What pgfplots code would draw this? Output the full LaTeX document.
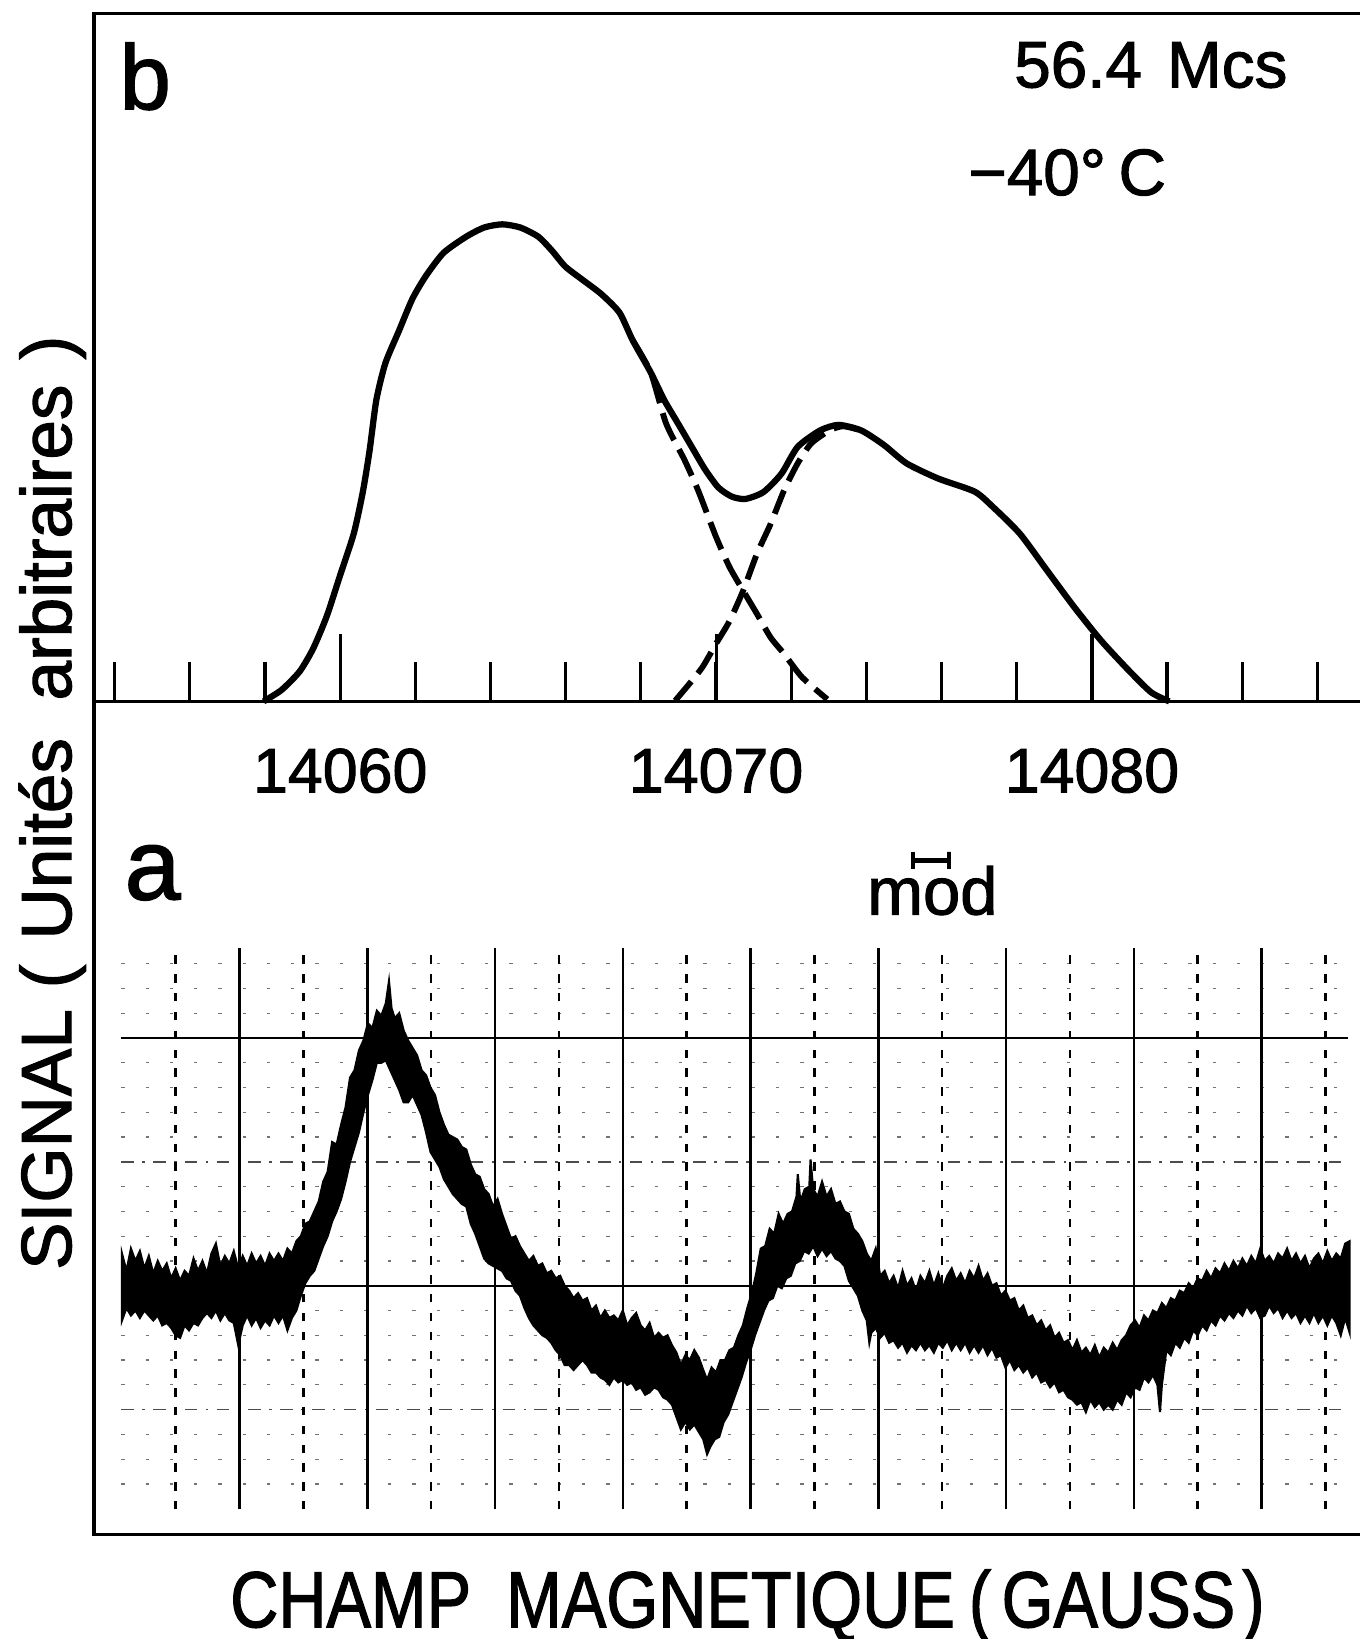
\documentclass[border=0pt]{standalone}
\usepackage{fontspec}
\setmainfont{Liberation Sans}
\newfontfamily\lettering{Liberation Sans}[FakeBold=1.6]
\usepackage{graphicx}
\usepackage{pgfplots}
\pgfplotsset{compat=1.18}

\begin{document}
\begin{tikzpicture}[x=0.25pt,y=0.25pt]

% ---------- panel b : decomposition ----------
\begin{axis}[
  scale only axis, width=302.75pt, height=164.5pt,
  at={(22.5pt,224.25pt)}, anchor=south west,
  xmin=14053.45, xmax=14087.13, ymin=0, ymax=100,
  axis line style={draw=none},
  ytick=\empty,
  xtick={14054,14056,...,14086},
  xticklabels={},
  scaled x ticks=false,
  xtick pos=left,
  tick align=inside,
  major tick length=9.5pt,
  tick style={line width=0.75pt, black},
  extra x ticks={14060,14070,14080},
  extra x tick labels={14060,14070,14080},
  extra x tick style={major tick length=16pt},
  tick label style={font=\lettering\fontsize{15}{15}\selectfont, yshift=-7.75pt},
  clip=false,
]
\draw[line width=0.9pt] (rel axis cs:1,1) -- (rel axis cs:0,1) -- (rel axis cs:0,0) -- (rel axis cs:1,0);

% measured envelope
\addplot[line width=1.5pt, smooth, tension=0.4] coordinates {
(14057.96,0)(14058.44,1.67)(14058.92,4.35)(14059.28,7.69)(14059.64,12.37)
(14060.0,18.39)(14060.36,24.41)(14060.60,30.43)(14060.78,36.45)(14060.96,43.81)
(14061.20,49.16)(14061.56,53.85)(14061.92,58.53)(14062.28,61.87)(14062.75,65.22)
(14063.35,67.56)(14063.83,68.90)(14064.31,69.36)(14064.79,68.90)(14065.27,67.56)
(14065.63,65.55)(14065.99,63.21)(14066.47,61.20)(14066.95,59.20)(14067.43,56.52)
(14067.78,52.51)(14068.26,47.83)(14068.62,43.81)(14068.98,40.47)(14069.34,37.12)
(14069.70,33.78)(14070.06,31.10)(14070.42,29.77)(14070.78,29.43)(14071.26,30.43)
(14071.74,33.11)(14072.17,37.0)(14072.77,39.4)(14073.26,40.2)(14073.86,39.4)
(14074.46,37.3)(14075.07,34.6)(14075.91,32.4)(14076.88,30.5)(14077.36,28.3)
(14078.08,24.4)(14078.81,19.0)(14079.53,13.7)(14080.25,8.8)(14080.98,4.5)
(14081.58,1.3)(14082.06,0)
};

% low-field component
\addplot[line width=1.4pt, smooth, tension=0.4, dash pattern=on 7pt off 2.5pt] coordinates {
(14067.78,52.51)(14068.26,47.83)(14068.67,40.4)(14069.16,35.1)(14069.52,30.7)
(14070.0,23.9)(14070.36,19.5)(14070.72,16.1)(14071.09,12.7)(14071.45,9.3)
(14071.81,6.9)(14072.29,3.5)(14072.96,0.3)
};

% high-field component
\addplot[line width=1.4pt, smooth, tension=0.4, dash pattern=on 6pt off 2.5pt] coordinates {
(14068.91,0.1)(14069.28,2.5)(14069.64,5.0)(14070.0,8.4)(14070.36,11.7)
(14070.72,16.1)(14071.09,21.5)(14071.45,25.8)(14071.81,30.7)(14072.17,34.6)
(14072.53,37.5)(14073.02,39.4)(14073.38,40.0)(14073.86,39.4)
};
\end{axis}

% ---------- panel a : recorder trace ----------
\begin{axis}[
  scale only axis, width=302.75pt, height=199.25pt,
  at={(22.5pt,25pt)}, anchor=south west,
  xmin=-1.277, xmax=18.54, ymin=-10.04, ymax=23.59,
  axis line style={draw=none},
  xtick=\empty, ytick=\empty,
  clip=false,
]
\draw[line width=0.9pt] (rel axis cs:0,1) -- (rel axis cs:0,0) -- (rel axis cs:1,0);

% chart paper
\pgfplotsinvokeforeach{-8,-7,-6,-4,-3,-2,-1,1,2,3,4,6,7,8,9,11,12,13}{
  \addplot[line width=0.3pt, black!55, dash pattern=on 0.8pt off 5pt] coordinates {(-0.85,#1)(18.36,#1)};
}
\pgfplotsinvokeforeach{-5,5}{
  \addplot[line width=0.35pt, black!70, dash pattern=on 3pt off 2pt on 0.6pt off 2pt] coordinates {(-0.85,#1)(18.36,#1)};
}
\pgfplotsinvokeforeach{0,10}{
  \addplot[line width=0.45pt] coordinates {(-0.85,#1)(18.36,#1)};
}
\pgfplotsinvokeforeach{1,3,...,17}{
  \addplot[line width=0.6pt] coordinates {(#1,-9.03)(#1,13.63)};
}
\pgfplotsinvokeforeach{0,2,...,18}{
  \addplot[line width=0.6pt, dash pattern=on 2pt off 2.5pt] coordinates {(#1,-9.03)(#1,13.63)};
}

% signal band (upper edge then lower edge)
\addplot[fill=black, draw=black, line width=0.5pt] coordinates {
(-0.84,1.3)(-0.77,0.6)(-0.70,1.5)(-0.63,1.0)(-0.56,1.4)(-0.49,0.7)(-0.42,1.2)(-0.35,0.5)
(-0.28,1.0)(-0.21,0.6)(-0.14,0.9)(-0.07,0.3)(0.00,0.7)(0.07,0.2)(0.14,0.6)(0.21,0.4)
(0.28,1.1)(0.35,0.6)(0.42,1.0)(0.49,0.5)(0.56,1.3)(0.63,1.7)(0.70,0.8)(0.77,1.2)
(0.84,0.9)(0.91,1.4)(0.98,0.7)(1.05,1.2)(1.12,0.8)(1.19,1.3)(1.26,0.9)(1.33,1.2)
(1.40,0.8)(1.47,1.3)(1.54,1.0)(1.61,1.3)(1.68,1.0)(1.75,1.5)(1.82,1.3)(1.89,1.8)
(1.96,2.0)(2.03,2.5)(2.10,2.6)(2.17,3.0)(2.24,3.4)(2.31,4.2)(2.38,4.6)(2.45,5.8)
(2.52,5.7)(2.59,6.5)(2.66,7.2)(2.73,8.4)(2.80,8.7)(2.87,9.5)(2.94,9.9)(3.01,10.6)
(3.08,10.4)(3.15,11.1)(3.22,10.9)(3.29,11.4)(3.34,12.3)(3.38,11.2)(3.43,10.8)(3.50,11.0)
(3.57,10.3)(3.64,9.9)(3.71,9.6)(3.78,9.3)(3.85,8.7)(3.92,8.5)(3.99,8.0)(4.06,7.7)
(4.13,7.0)(4.20,6.5)(4.27,6.1)(4.34,6.0)(4.41,5.9)(4.48,5.6)(4.55,5.5)(4.62,4.9)
(4.69,4.5)(4.76,4.4)(4.83,3.9)(4.90,3.7)(4.97,3.2)(5.04,3.5)(5.11,2.9)(5.18,2.4)
(5.25,1.9)(5.32,2.0)(5.39,1.6)(5.46,1.3)(5.53,1.0)(5.60,1.2)(5.67,0.8)(5.74,0.9)
(5.81,0.5)(5.88,0.6)(5.95,0.3)(6.02,0.4)(6.09,0.0)(6.16,-0.2)(6.23,-0.5)(6.30,-0.3)
(6.37,-0.6)(6.44,-0.5)(6.51,-1.0)(6.58,-0.8)(6.65,-1.3)(6.72,-1.0)(6.79,-1.3)(6.86,-1.2)
(6.93,-1.4)(7.00,-1.0)(7.07,-1.6)(7.14,-1.3)(7.21,-1.1)(7.28,-1.6)(7.35,-1.8)(7.42,-1.5)
(7.49,-2.1)(7.56,-1.9)(7.63,-2.1)(7.70,-2.0)(7.77,-2.4)(7.84,-2.7)(7.91,-3.2)(7.98,-2.8)
(8.05,-3.0)(8.12,-2.6)(8.19,-2.9)(8.26,-3.4)(8.32,-3.8)(8.39,-3.3)(8.46,-3.5)(8.53,-3.0)
(8.60,-3.0)(8.67,-2.6)(8.74,-2.5)(8.81,-2.0)(8.88,-1.6)(8.95,-0.9)(9.02,-0.3)(9.09,0.5)
(9.16,1.5)(9.23,1.6)(9.30,2.3)(9.37,2.1)(9.44,2.9)(9.51,2.5)(9.58,2.9)(9.65,3.0)
(9.72,3.6)(9.74,4.5)(9.78,3.4)(9.85,3.9)(9.92,4.0)(9.94,5.1)(9.98,3.9)(10.05,3.6)
(10.12,4.2)(10.19,3.6)(10.26,3.9)(10.33,3.3)(10.40,3.4)(10.47,3.0)(10.54,2.9)(10.61,2.3)
(10.68,2.1)(10.75,1.8)(10.82,1.3)(10.89,1.0)(10.96,1.5)(11.03,0.4)(11.10,0.6)(11.17,0.1)
(11.24,0.4)(11.31,-0.1)(11.38,0.6)(11.45,0.0)(11.52,0.3)(11.59,-0.2)(11.66,0.4)(11.73,0.1)
(11.80,0.6)(11.87,0.0)(11.94,0.5)(12.01,-0.1)(12.08,0.4)(12.15,0.7)(12.22,0.2)(12.29,0.5)
(12.36,0.1)(12.43,0.6)(12.50,0.3)(12.57,0.8)(12.64,0.2)(12.71,0.5)(12.78,0.0)(12.85,0.1)
(12.92,-0.4)(12.99,-0.2)(13.06,-0.6)(13.13,-0.5)(13.20,-1.0)(13.27,-0.8)(13.34,-1.3)(13.41,-1.2)
(13.48,-1.6)(13.55,-1.4)(13.62,-1.8)(13.69,-1.6)(13.76,-2.1)(13.83,-1.9)(13.90,-2.3)(13.97,-2.2)
(14.04,-2.6)(14.11,-2.2)(14.18,-2.7)(14.25,-2.5)(14.32,-2.8)(14.39,-2.4)(14.46,-2.9)(14.53,-2.5)
(14.60,-2.7)(14.67,-2.3)(14.74,-2.6)(14.81,-2.2)(14.88,-2.0)(14.95,-1.6)(15.02,-1.4)(15.09,-1.7)
(15.16,-1.2)(15.23,-1.4)(15.30,-1.0)(15.37,-1.1)(15.44,-0.7)(15.51,-0.9)(15.58,-0.5)(15.65,-0.6)
(15.72,-0.2)(15.79,-0.3)(15.86,0.1)(15.93,-0.1)(16.00,0.3)(16.07,0.2)(16.14,0.6)(16.21,0.3)
(16.28,0.7)(16.35,0.5)(16.42,0.9)(16.49,0.6)(16.56,1.0)(16.63,0.7)(16.70,1.1)(16.77,0.8)
(16.84,1.2)(16.91,0.9)(16.98,1.5)(17.05,1.0)(17.12,1.2)(17.19,0.9)(17.26,1.3)(17.33,1.1)
(17.40,1.5)(17.47,1.0)(17.54,1.3)(17.61,0.9)(17.68,1.2)(17.75,0.7)(17.82,1.1)(17.89,1.3)
(17.96,0.9)(18.03,1.4)(18.10,1.0)(18.17,1.3)(18.24,1.1)(18.31,1.7)(18.38,1.8)
(18.38,-1.9)(18.31,-1.3)(18.24,-2.0)(18.17,-1.5)(18.10,-1.2)(18.03,-1.6)(17.96,-1.2)(17.89,-1.5)
(17.82,-1.1)(17.75,-1.5)(17.68,-1.2)(17.61,-1.5)(17.54,-1.1)(17.47,-1.3)(17.40,-1.0)(17.33,-1.3)
(17.26,-0.9)(17.19,-1.1)(17.12,-0.8)(17.05,-1.2)(16.98,-1.3)(16.91,-0.9)(16.84,-1.1)(16.77,-0.8)
(16.70,-1.2)(16.63,-1.0)(16.56,-1.3)(16.49,-1.1)(16.42,-1.4)(16.35,-1.2)(16.28,-1.6)(16.21,-1.4)
(16.14,-1.8)(16.07,-1.6)(16.00,-2.0)(15.93,-1.8)(15.86,-2.3)(15.79,-2.1)(15.72,-2.5)(15.65,-2.3)
(15.58,-2.8)(15.51,-2.6)(15.44,-4.0)(15.41,-5.1)(15.37,-4.0)(15.30,-3.6)(15.23,-3.9)(15.16,-3.7)
(15.09,-4.2)(15.02,-4.1)(14.95,-4.5)(14.88,-4.3)(14.81,-4.8)(14.74,-4.6)(14.67,-5.0)(14.60,-4.8)
(14.53,-5.0)(14.46,-4.7)(14.39,-4.9)(14.32,-4.6)(14.25,-5.1)(14.18,-4.7)(14.11,-4.8)(14.04,-4.6)
(13.97,-4.5)(13.90,-4.2)(13.83,-4.3)(13.76,-3.9)(13.69,-4.1)(13.62,-3.8)(13.55,-3.9)(13.48,-3.5)
(13.41,-3.7)(13.34,-3.3)(13.27,-3.5)(13.20,-3.2)(13.13,-3.4)(13.06,-3.0)(12.99,-3.3)(12.92,-2.8)
(12.85,-2.9)(12.78,-2.5)(12.71,-2.8)(12.64,-2.4)(12.57,-2.7)(12.50,-2.4)(12.43,-2.7)(12.36,-2.3)
(12.29,-2.6)(12.22,-2.3)(12.15,-2.6)(12.08,-2.2)(12.01,-2.5)(11.94,-2.3)(11.87,-2.7)(11.80,-2.4)
(11.73,-2.6)(11.66,-2.3)(11.59,-2.6)(11.52,-2.4)(11.45,-2.7)(11.38,-2.3)(11.31,-2.5)(11.24,-2.2)
(11.17,-2.3)(11.10,-1.9)(11.03,-2.1)(10.96,-1.7)(10.89,-1.9)(10.86,-2.3)(10.82,-1.4)(10.75,-1.0)
(10.68,-0.4)(10.61,-0.1)(10.54,0.2)(10.47,0.8)(10.40,1.0)(10.33,1.1)(10.26,1.4)(10.19,1.2)
(10.12,1.5)(10.05,1.2)(9.98,1.6)(9.91,1.3)(9.84,1.4)(9.77,1.0)(9.70,0.9)(9.63,0.4)
(9.56,0.3)(9.49,-0.1)(9.42,0.0)(9.35,-0.5)(9.28,-0.6)(9.21,-1.0)(9.14,-1.5)(9.07,-2.0)
(9.00,-2.6)(8.93,-3.1)(8.86,-3.7)(8.79,-4.2)(8.72,-4.7)(8.65,-5.2)(8.58,-5.5)(8.51,-6.1)
(8.44,-6.2)(8.37,-6.5)(8.32,-6.8)(8.26,-6.2)(8.19,-5.9)(8.12,-5.6)(8.05,-5.8)(7.98,-5.5)
(7.91,-5.8)(7.84,-5.3)(7.77,-4.8)(7.70,-4.6)(7.63,-4.5)(7.56,-4.2)(7.49,-4.1)(7.42,-4.3)
(7.35,-4.4)(7.28,-4.1)(7.21,-4.2)(7.14,-3.9)(7.07,-4.0)(7.00,-3.8)(6.93,-3.9)(6.86,-3.7)
(6.79,-4.0)(6.72,-3.8)(6.65,-3.7)(6.58,-3.5)(6.51,-3.5)(6.44,-3.2)(6.37,-3.0)(6.30,-3.2)
(6.23,-3.4)(6.16,-3.2)(6.09,-3.2)(6.02,-2.8)(5.95,-2.6)(5.88,-2.3)(5.81,-2.1)(5.74,-2.0)
(5.67,-1.8)(5.60,-1.6)(5.53,-1.3)(5.46,-0.9)(5.39,-0.4)(5.32,-0.2)(5.25,0.2)(5.18,0.3)
(5.11,0.6)(5.04,0.7)(4.97,0.8)(4.90,0.9)(4.83,1.1)(4.76,1.6)(4.69,2.1)(4.62,2.5)
(4.55,3.2)(4.48,3.3)(4.41,3.5)(4.34,3.7)(4.27,4.0)(4.20,4.3)(4.13,4.8)(4.06,5.1)
(3.99,5.4)(3.92,6.2)(3.85,6.9)(3.78,7.3)(3.71,7.7)(3.64,7.4)(3.57,7.4)(3.50,7.9)
(3.43,8.3)(3.36,8.7)(3.29,9.1)(3.22,9.0)(3.15,9.0)(3.08,8.3)(3.01,7.7)(2.94,7.0)
(2.87,6.2)(2.80,5.6)(2.73,5.0)(2.66,4.2)(2.59,3.5)(2.52,3.0)(2.45,2.6)(2.38,2.0)
(2.31,1.6)(2.24,1.1)(2.17,0.6)(2.10,0.4)(2.03,0.1)(1.96,-0.4)(1.89,-1.0)(1.82,-1.3)
(1.75,-1.8)(1.68,-1.2)(1.61,-1.5)(1.54,-1.2)(1.47,-1.6)(1.40,-1.4)(1.33,-1.7)(1.26,-1.3)
(1.19,-1.6)(1.12,-1.2)(1.05,-1.6)(0.98,-2.4)(0.91,-1.5)(0.84,-1.4)(0.77,-1.1)(0.70,-1.4)
(0.63,-1.0)(0.56,-1.3)(0.49,-1.1)(0.42,-1.3)(0.35,-1.6)(0.28,-1.5)(0.21,-1.8)(0.14,-1.6)
(0.07,-2.1)(0.00,-2.0)(-0.07,-1.7)(-0.14,-1.5)(-0.21,-1.6)(-0.28,-1.2)(-0.35,-1.4)(-0.42,-1.2)
(-0.49,-1.0)(-0.56,-1.3)(-0.63,-1.0)(-0.70,-1.2)(-0.77,-0.9)(-0.84,-1.4)
} -- cycle;

% modulation amplitude marker
\addplot[line width=1pt] coordinates {
(11.54,17.51)(11.54,16.83)(11.54,17.17)(12.11,17.17)(12.11,17.51)(12.11,16.83)
};
\end{axis}

% ---------- lettering ----------
\node[font=\lettering\fontsize{22}{22}\selectfont, inner sep=0pt] at (139,1495) {b};
\node[font=\lettering\fontsize{24}{24}\selectfont, inner sep=0pt] at (146,733) {a};
\node[font=\lettering\fontsize{15.7}{16}\selectfont, inner sep=0pt] at (1101,1506) {56.4\hspace{6pt}Mcs};
\node[font=\lettering\fontsize{15.7}{16}\selectfont, inner sep=0pt] at (1021,1403) {−40°\hspace{3pt}C};
\node[font=\lettering\fontsize{16}{16}\selectfont, inner sep=0pt] at (892,716) {mod};
\node[font=\lettering\fontsize{17}{17}\selectfont, inner sep=0pt, rotate=90] at (50,800)
  {SIGNAL\hspace{5pt}(\hspace{6pt}Unités\hspace{9pt}arbitraires\hspace{6pt})};
\node[inner sep=0pt] at (715,31)
  {\scalebox{0.84}[1]{\lettering\fontsize{19}{19}\selectfont CHAMP\hspace{10pt}MAGNETIQUE\hspace{4pt}(\hspace{3pt}GAUSS\hspace{2pt})}};

\pgfresetboundingbox
\path[use as bounding box] (0,0) rectangle (1301,1568);
\end{tikzpicture}
\end{document}
